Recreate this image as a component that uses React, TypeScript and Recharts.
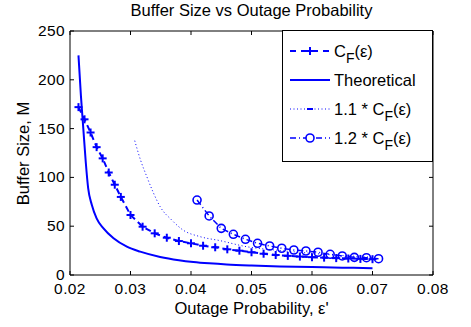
import { LineChart, Line, XAxis, YAxis } from 'recharts';

const xTicks = [0.02, 0.03, 0.04, 0.05, 0.06, 0.07, 0.08];
const yTicks = [0, 50, 100, 150, 200, 250];

const cfEps = [0.0214, 0.0224, 0.0234, 0.0244, 0.0254, 0.0264, 0.0274, 0.0284, 0.030, 0.032, 0.034, 0.036, 0.038, 0.040, 0.042, 0.044, 0.046, 0.048, 0.050, 0.052, 0.054, 0.056, 0.058, 0.060, 0.062, 0.064, 0.066, 0.068, 0.070];
const cfVals = [172, 159.5, 146, 131, 119.5, 105, 92.5, 80, 61.5, 49.5, 42.7, 38.2, 34.8, 32.5, 30, 28.4, 26.3, 24.9, 23.3, 21.8, 20.5, 19.6, 18.9, 18.3, 17.8, 17.3, 16.9, 16.5, 16.2];

const theoEps = [0.0214, 0.0218, 0.0222, 0.0226, 0.0230, 0.0236, 0.0244, 0.0255, 0.0272, 0.0294, 0.0316, 0.0349, 0.038, 0.0404, 0.043, 0.0459, 0.050, 0.0547, 0.060, 0.065, 0.070];
const theoVals = [225, 184, 150, 116, 89, 72, 58, 48, 37.6, 29, 23.9, 18.5, 15.2, 13.4, 12, 10.8, 9.7, 8.8, 8.1, 7.5, 7];

const cf11Eps = [0.0307, 0.0317, 0.0327, 0.0338, 0.0349, 0.0368, 0.0387, 0.0415, 0.0448, 0.0492, 0.054, 0.058, 0.062, 0.066, 0.070];
const cf11Vals = [137.6, 117, 100.7, 84, 70, 56.4, 46, 39.3, 35.2, 29, 25.5, 23.2, 21.2, 19.6, 18.2];

const cf12Eps = [0.041, 0.043, 0.045, 0.047, 0.049, 0.051, 0.053, 0.055, 0.057, 0.059, 0.061, 0.063, 0.065, 0.067, 0.069, 0.071];
const cf12Vals = [76.8, 60.5, 47.8, 41.7, 36.6, 32.5, 29.7, 27.4, 25.6, 24.6, 23.3, 21.2, 19.5, 18.1, 17.7, 16.7];

const toRows = (xs: number[], ys: number[]) => xs.map((x, i) => ({ x, y: ys[i] }));

const cfData = toRows(cfEps, cfVals);
const theoData = toRows(theoEps, theoVals);
const cf11Data = toRows(cf11Eps, cf11Vals);
const cf12Data = toRows(cf12Eps, cf12Vals);

const BLUE = '#0000ff';
const FONT = '"Liberation Sans", Arial, sans-serif';
const FS = 16.5;
const TFS = 15.5; // tick font
const TM = 6; // tick margin

function PlusDot(props: any) {
    const { cx, cy } = props;
    if (cx == null || cy == null) return null;
    return (
        <g stroke={BLUE} strokeWidth={2}>
            <line x1={cx - 4} y1={cy} x2={cx + 4} y2={cy} />
            <line x1={cx} y1={cy - 4} x2={cx} y2={cy + 4} />
        </g>
    );
}

function CircleDot(props: any) {
    const { cx, cy } = props;
    if (cx == null || cy == null) return null;
    return <circle cx={cx} cy={cy} r={4} fill="none" stroke={BLUE} strokeWidth={1.6} />;
}

function BottomTick(props: any) {
    const { x, y, payload } = props;
    const ay = y - TM;
    return (
        <g>
            <line x1={x} y1={ay} x2={x} y2={ay - 4} stroke="#000" />
            <text x={x} y={y + 13} textAnchor="middle" fontSize={TFS} letterSpacing={0.4} fontFamily={FONT} fill="#000">
                {payload.value.toFixed(2)}
            </text>
        </g>
    );
}

function TopTick(props: any) {
    const { x, y } = props;
    const ay = y + TM;
    return <line x1={x} y1={ay} x2={x} y2={ay + 4} stroke="#000" />;
}

function LeftTick(props: any) {
    const { x, y, payload } = props;
    const ax = x + TM;
    return (
        <g>
            <line x1={ax} y1={y} x2={ax + 4} y2={y} stroke="#000" />
            <text x={x + 1} y={y + 5} textAnchor="end" fontSize={TFS} letterSpacing={0.4} fontFamily={FONT} fill="#000">
                {payload.value}
            </text>
        </g>
    );
}

function RightTick(props: any) {
    const { x, y } = props;
    const ax = x - TM;
    return <line x1={ax} y1={y} x2={ax - 4} y2={y} stroke="#000" />;
}

function Swatch({ dash, marker, width }: { dash?: string; marker?: 'plus' | 'circle' | 'dot'; width: number }) {
    return (
        <svg width={40} height={12} style={{ display: 'block' }}>
            <line x1={0} y1={6} x2={40} y2={6} stroke={BLUE} strokeWidth={width} strokeDasharray={dash} />
            {marker === 'plus' && (
                <g stroke={BLUE} strokeWidth={2}>
                    <line x1={16} y1={6} x2={24} y2={6} />
                    <line x1={20} y1={2} x2={20} y2={10} />
                </g>
            )}
            {marker === 'circle' && <circle cx={20} cy={6} r={4} fill="#fff" stroke={BLUE} strokeWidth={1.6} />}
            {marker === 'dot' && <rect x={17} y={5} width={6} height={2} fill={BLUE} />}
        </svg>
    );
}

function LegendBox() {
    const cf = (
        <span>
            C<sub style={{ fontSize: 14, verticalAlign: -6, lineHeight: 0 }}>F</sub>(ε)
        </span>
    );
    const rows = [
        { sw: <Swatch dash="6 5" marker="plus" width={2} />, label: cf },
        { sw: <Swatch width={2} />, label: <span>Theoretical</span> },
        { sw: <Swatch dash="1 2.5" marker="dot" width={1} />, label: <span>1.1 * {cf}</span> },
        { sw: <Swatch dash="6 3 1 3" marker="circle" width={1.5} />, label: <span>1.2 * {cf}</span> },
    ];
    return (
        <div
            style={{
                position: 'absolute',
                left: 282,
                top: 30,
                width: 151,
                height: 132,
                border: '1px solid #000',
                background: '#fff',
                boxSizing: 'border-box',
                fontFamily: FONT,
                fontSize: FS,
                color: '#000',
                paddingTop: 5,
            }}
        >
            {rows.map((r, i) => (
                <div key={i} style={{ display: 'flex', alignItems: 'center', height: 29, paddingLeft: 7 }}>
                    {r.sw}
                    <div style={{ marginLeft: 4, lineHeight: '16px', whiteSpace: 'nowrap' }}>{r.label}</div>
                </div>
            ))}
        </div>
    );
}

export default function App() {
    return (
        <div style={{ position: 'absolute', left: 0, top: 0, width: 471, height: 327, background: '#fff' }}>
            <LineChart width={471} height={327} margin={{ top: 21, right: 28, bottom: 22, left: 30 }}>
                <XAxis
                    xAxisId="bottom"
                    type="number"
                    dataKey="x"
                    domain={[0.02, 0.08]}
                    ticks={xTicks}
                    height={30}
                    tickSize={0}
                    tickMargin={TM}
                    stroke="#000"
                    tick={<BottomTick />}
                    allowDataOverflow
                />
                <XAxis
                    xAxisId="top"
                    orientation="top"
                    type="number"
                    dataKey="x"
                    domain={[0.02, 0.08]}
                    ticks={xTicks}
                    height={10}
                    tickSize={0}
                    tickMargin={TM}
                    stroke="#000"
                    tick={<TopTick />}
                    allowDataOverflow
                />
                <YAxis
                    yAxisId="left"
                    type="number"
                    domain={[0, 250]}
                    ticks={yTicks}
                    width={40}
                    tickSize={0}
                    tickMargin={TM}
                    stroke="#000"
                    tick={<LeftTick />}
                    allowDataOverflow
                />
                <YAxis
                    yAxisId="right"
                    orientation="right"
                    type="number"
                    domain={[0, 250]}
                    ticks={yTicks}
                    width={10}
                    tickSize={0}
                    tickMargin={TM}
                    stroke="#000"
                    tick={<RightTick />}
                    allowDataOverflow
                />
                <Line
                    xAxisId="bottom"
                    yAxisId="left"
                    data={theoData}
                    dataKey="y"
                    type="monotone"
                    stroke={BLUE}
                    strokeWidth={2}
                    dot={false}
                    isAnimationActive={false}
                />
                <Line
                    xAxisId="bottom"
                    yAxisId="left"
                    data={cf11Data}
                    dataKey="y"
                    type="monotone"
                    stroke={BLUE}
                    strokeWidth={1}
                    strokeDasharray="1 2.5"
                    dot={false}
                    isAnimationActive={false}
                />
                <Line
                    xAxisId="bottom"
                    yAxisId="left"
                    data={cfData}
                    dataKey="y"
                    type="linear"
                    stroke={BLUE}
                    strokeWidth={2}
                    strokeDasharray="6 4"
                    dot={<PlusDot />}
                    isAnimationActive={false}
                />
                <Line
                    xAxisId="bottom"
                    yAxisId="left"
                    data={cf12Data}
                    dataKey="y"
                    type="linear"
                    stroke={BLUE}
                    strokeWidth={1.5}
                    strokeDasharray="6 3 1 3"
                    dot={<CircleDot />}
                    isAnimationActive={false}
                />
                <text x={251.5} y={16} textAnchor="middle" fontSize={FS} fontFamily={FONT} fill="#000">
                    Buffer Size vs Outage Probability
                </text>
                <text x={251.5} y={314} textAnchor="middle" fontSize={FS} fontFamily={FONT} fill="#000">
                    Outage Probability, ε'
                </text>
                <text
                    x={29}
                    y={153.5}
                    textAnchor="middle"
                    fontSize={FS}
                    fontFamily={FONT}
                    fill="#000"
                    transform="rotate(-90 29 153.5)"
                >
                    Buffer Size, M
                </text>
            </LineChart>
            <LegendBox />
        </div>
    );
}
